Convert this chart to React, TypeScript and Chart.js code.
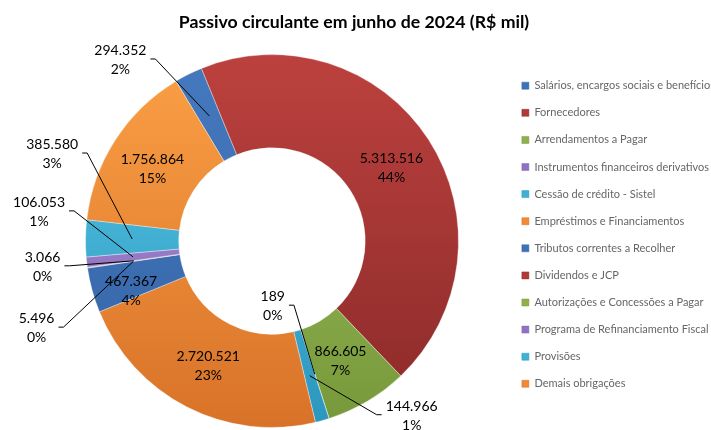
import React, { useEffect, useRef } from 'react';
import { Chart, registerables } from 'chart.js';

Chart.register(...registerables);

// ---------- data ----------
const TITLE = 'Passivo circulante em junho de 2024 (R$ mil)';

const CATEGORIES = [
  'Salários, encargos sociais e benefícios',
  'Fornecedores',
  'Arrendamentos a Pagar',
  'Instrumentos financeiros derivativos',
  'Cessão de crédito - Sistel',
  'Empréstimos e Financiamentos',
  'Tributos correntes a Recolher',
  'Dividendos e JCP',
  'Autorizações e Concessões a Pagar',
  'Programa de Refinanciamento Fiscal',
  'Provisões',
  'Demais obrigações',
];

const VALUES = [294352, 5313516, 866605, 189, 144966, 2720521, 467367, 5496, 3066, 106053, 385580, 1756864];

// ---------- styles / layout ----------
const TOP_COLORS = ['#4579BE', '#BC413E', '#A2C45E', '#AC90DA', '#58C8E6', '#FBA046', '#4579BE', '#BC413E', '#A2C45E', '#AC90DA', '#58C8E6', '#FBA046'];
const BOTTOM_COLORS = ['#3364A6', '#8A2A29', '#76983A', '#8466B4', '#2B96BE', '#D87228', '#3364A6', '#8A2A29', '#76983A', '#8466B4', '#2B96BE', '#D87228'];
const LEGEND_COLORS = ['#3E72B8', '#B03A38', '#8FB04C', '#8F72C0', '#40B0D4', '#F08A36', '#3E72B8', '#B03A38', '#8FB04C', '#8F72C0', '#40B0D4', '#F08A36'];

// label text-centre offsets relative to the slice mid point
const LABEL_OFFSETS: [number, number][] = [
  [-89, -56], [2, 3], [-3, 0], [-42, -68], [102, 40], [0, 0],
  [-6, 13], [-97, 67], [-91, 6], [-94, -45], [-80, -85], [-2, 4],
];
const HAS_LEADER = [true, false, false, true, true, false, false, true, true, true, true, false];

const W = 711;
const H = 430;
const CENTER_X = 272;
const TITLE_CENTER_X = 354;
const LEGEND_FONT = 11;
const LEGEND_PAD = 16.1;
const LEGEND_BOX = 7;
const PAD_RIGHT = -14;

function fmt(v: number) {
  return String(v).replace(/\B(?=(\d{3})+(?!\d))/g, '.');
}

function leftPadding() {
  const c = document.createElement('canvas').getContext('2d')!;
  c.font = `${LEGEND_FONT}px Lato`;
  const w = Math.max(...CATEGORIES.map((t) => c.measureText(t).width));
  const lw = LEGEND_PAD + LEGEND_BOX + LEGEND_FONT / 2 + w + 10;
  const right = W - PAD_RIGHT - lw;
  return 2 * CENTER_X - right;
}

// keep the chart title centred on the page rather than on the padded layout box
const titleCenterPlugin = {
  id: 'titleCenter',
  afterLayout(chart: any) {
    const tb = chart.titleBlock;
    if (tb) {
      const half = (tb.right - tb.left) / 2;
      tb.left = TITLE_CENTER_X - half;
      tb.right = TITLE_CENTER_X + half;
    }
  },
};

const labelPlugin = {
  id: 'sliceLabels',
  afterDatasetsDraw(chart: any) {
    const ctx = chart.ctx as CanvasRenderingContext2D;
    const meta = chart.getDatasetMeta(0);
    const total = VALUES.reduce((a, b) => a + b, 0);
    ctx.save();
    ctx.font = '14px Lato';
    ctx.fillStyle = '#000';
    ctx.strokeStyle = '#000';
    ctx.lineWidth = 1;
    ctx.textAlign = 'center';
    ctx.textBaseline = 'middle';
    meta.data.forEach((arc: any, i: number) => {
      const p = arc.getProps(['x', 'y', 'startAngle', 'endAngle', 'innerRadius', 'outerRadius'], true);
      const mid = (p.startAngle + p.endAngle) / 2;
      const r = (p.innerRadius + p.outerRadius) / 2;
      const ax = p.x + Math.cos(mid) * r;
      const ay = p.y + Math.sin(mid) * r;
      const [dx, dy] = LABEL_OFFSETS[i];
      const cx = ax + dx;
      const cy = ay + dy;
      const l1 = fmt(VALUES[i]);
      const l2 = Math.round((VALUES[i] / total) * 100) + '%';
      if (HAS_LEADER[i]) {
        const w = Math.max(ctx.measureText(l1).width, ctx.measureText(l2).width);
        const dir = ax > cx ? 1 : -1;
        const sx = cx + dir * (w / 2 + 4);
        const sy = cy - 1;
        ctx.beginPath();
        ctx.moveTo(sx, sy);
        ctx.lineTo(sx + dir * 5, sy);
        ctx.lineTo(ax, ay);
        ctx.stroke();
      }
      ctx.fillText(l1, cx, cy - 9.5);
      ctx.fillText(l2, cx, cy + 9.5);
    });
    ctx.restore();
  },
};

export default function App() {
  const ref = useRef<HTMLCanvasElement>(null);
  useEffect(() => {
    document.body.style.margin = '0';
    const canvas = ref.current!;
    const chart = new Chart(canvas, {
      type: 'doughnut',
      data: {
        labels: CATEGORIES,
        datasets: [
          {
            data: VALUES,
            backgroundColor: (c: any) => {
              const i = c.dataIndex;
              const area = c.chart.chartArea;
              if (!area || i === undefined) return LEGEND_COLORS[i ?? 0];
              const g = c.chart.ctx.createLinearGradient(0, area.top, 0, area.bottom);
              g.addColorStop(0, TOP_COLORS[i]);
              g.addColorStop(1, BOTTOM_COLORS[i]);
              return g;
            },
            borderColor: 'rgba(255,255,255,0.35)',
            borderWidth: 1,
            hoverOffset: 0,
          },
        ],
      },
      options: {
        responsive: false,
        animation: false,
        devicePixelRatio: 1,
        events: [],
        cutout: '50%',
        rotation: -31,
        layout: { padding: { left: leftPadding(), top: 0, right: PAD_RIGHT, bottom: 2 } },
        plugins: {
          tooltip: { enabled: false },
          title: {
            display: true,
            text: TITLE,
            color: '#000',
            font: { family: 'Lato', weight: 'bold', size: 17.7, lineHeight: 1.2 },
            padding: { top: 11.5, bottom: 21.3 },
          },
          legend: {
            display: true,
            position: 'right',
            align: 'start',
            title: { display: true, text: '', font: { size: 12, lineHeight: 1.2 }, padding: { top: 49.7, bottom: 0 } },
            labels: {
              boxWidth: LEGEND_BOX,
              boxHeight: LEGEND_BOX,
              padding: LEGEND_PAD,
              color: '#111',
              font: { family: 'Lato', size: LEGEND_FONT },
              generateLabels: () =>
                CATEGORIES.map((text, i) => ({
                  text,
                  fillStyle: LEGEND_COLORS[i],
                  strokeStyle: BOTTOM_COLORS[i],
                  lineWidth: 0.5,
                  hidden: false,
                  index: i,
                })),
            },
          },
        },
      },
      plugins: [titleCenterPlugin, labelPlugin],
    } as any);
    return () => chart.destroy();
  }, []);
  return (
    <div style={{ width: W, height: H, position: 'relative' }}>
      <canvas ref={ref} width={W} height={H} style={{ display: 'block' }} />
    </div>
  );
}
